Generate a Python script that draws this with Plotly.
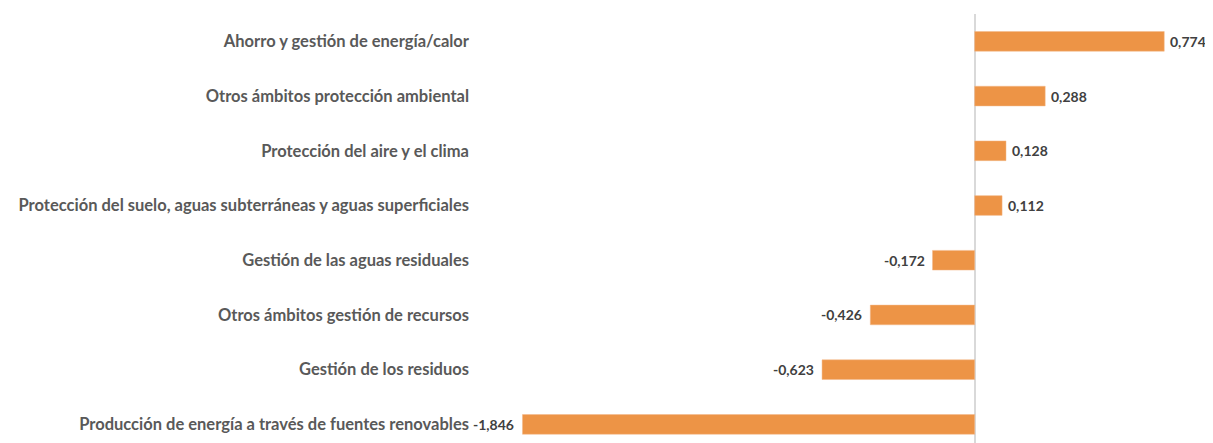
import plotly.graph_objects as go

categorias = [
    "Ahorro y gestión de energía/calor",
    "Otros ámbitos protección ambiental",
    "Protección del aire y el clima",
    "Protección del suelo, aguas subterráneas y aguas superficiales",
    "Gestión de las aguas residuales",
    "Otros ámbitos gestión de recursos",
    "Gestión de los residuos",
    "Producción de energía a través de fuentes renovables",
]
valores = [0.774, 0.288, 0.128, 0.112, -0.172, -0.426, -0.623, -1.846]

etiquetas = [f"{v:.3f}".replace(".", ",") for v in valores]

fig = go.Figure()
fig.add_trace(go.Bar(
    x=valores, y=categorias, orientation='h',
    marker=dict(color='#ED9446', line=dict(color='#F3B98A', width=0.5)),
    width=0.36,
))

# etiquetas de valor al final de cada barra
for v, c, t in zip(valores, categorias, etiquetas):
    fig.add_annotation(
        x=v, y=c, text=t, showarrow=False,
        xanchor='left' if v >= 0 else 'right',
        xshift=4 if v >= 0 else -6,
        font=dict(family='Lato', size=14, color='#404040', weight='bold'),
    )

fig.update_layout(
    width=1205, height=435,
    margin=dict(l=464, r=0, t=6, b=0),
    plot_bgcolor='white', paper_bgcolor='white',
    showlegend=False,
    font=dict(family='Lato'),
)
fig.update_xaxes(range=[-2.052, 0.973], showgrid=False, showticklabels=False,
                 zeroline=True, zerolinecolor='#D9D9D9', zerolinewidth=1.5)
fig.update_yaxes(type='category', categoryorder='array', categoryarray=categorias,
                 range=[7.34, -0.5], showgrid=False, ticks='', ticklabelstandoff=2,
                 tickfont=dict(family='Lato', size=16.5, color='#595959', weight='bold'))

fig.write_html("out.html")
